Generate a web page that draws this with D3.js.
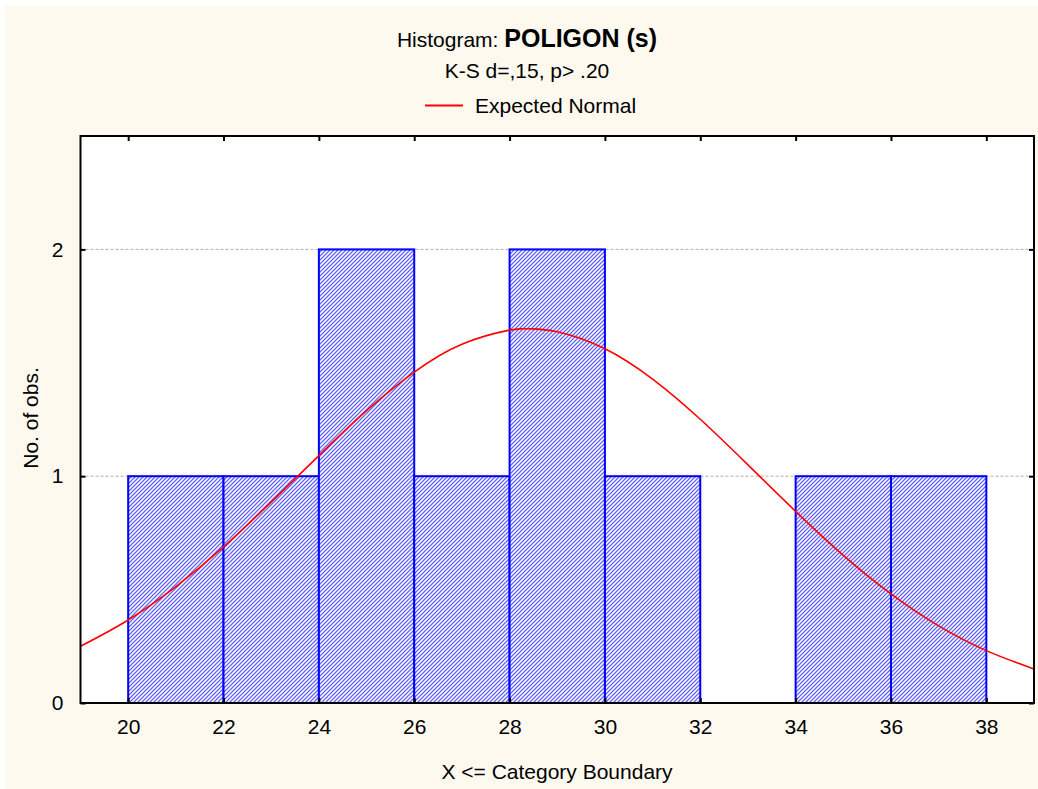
<!DOCTYPE html>
<html><head><meta charset="utf-8">
<script src="https://cdn.jsdelivr.net/npm/d3@7"></script>
<style>
html,body{margin:0;padding:0;background:#fff;}
svg{display:block;font-family:"Liberation Sans",Arial,sans-serif;}
</style></head>
<body>
<svg id="c" width="1038" height="789"></svg>
<script>
// Histogram bins (upper boundary) and counts
const binStarts = [20, 22, 24, 26, 28, 30, 32, 34, 36];
const binEnds   = [22, 24, 26, 28, 30, 32, 34, 36, 38];
const counts    = [1, 1, 2, 1, 2, 1, 0, 1, 1];
const xTicks = [20, 22, 24, 26, 28, 30, 32, 34, 36, 38];
const yTicks = [0, 1, 2];
// Expected normal curve
const curveX = [19,20,21,22,23,24,25,26,27,28,28.4,29,30,31,32,33,34,35,36,37,38,39];
const curveY = [0.250,0.366,0.513,0.688,0.886,1.091,1.289,1.459,1.582,1.644,1.650,1.637,1.562,1.428,1.251,1.050,0.845,0.651,0.481,0.340,0.231,0.150];

const svg = d3.select("#c");
svg.append("rect").attr("x",5).attr("y",6).attr("width",1033).attr("height",783).attr("fill","#FDF9EF");

const L=80.5, R=1034, T=136, B=703;
const x = d3.scaleLinear().domain([19,39]).range([L,R]);
const y = d3.scaleLinear().domain([0,2.5]).range([B,T]);

const defs = svg.append("defs");
const pat = defs.append("pattern").attr("id","hatch").attr("patternUnits","userSpaceOnUse")
  .attr("width",4).attr("height",4);
pat.append("rect").attr("width",4).attr("height",4).attr("fill","#fff");
pat.append("path").attr("d","M-1,1 l2,-2 M0,4 l4,-4 M3,5 l2,-2")
  .attr("stroke","#6464f2").attr("stroke-width",1.25);
defs.append("clipPath").attr("id","clip").append("rect")
  .attr("x",L).attr("y",T).attr("width",R-L).attr("height",B-T);

svg.append("rect").attr("x",L).attr("y",T).attr("width",R-L).attr("height",B-T).attr("fill","#fff");

// grid
svg.append("g").selectAll("line").data(yTicks.filter(d=>d>0)).join("line")
  .attr("x1",L).attr("x2",R).attr("y1",d=>y(d)).attr("y2",d=>y(d))
  .attr("stroke","#b0b0b0").attr("stroke-width",1).attr("stroke-dasharray","3,2");

// bars
const bins = binStarts.map((s,i)=>({s, e:binEnds[i], c:counts[i]})).filter(d=>d.c>0);
svg.append("g").selectAll("rect").data(bins).join("rect")
  .attr("x",d=>x(d.s)).attr("width",d=>x(d.e)-x(d.s))
  .attr("y",d=>y(d.c)).attr("height",d=>y(0)-y(d.c))
  .attr("fill","url(#hatch)").attr("stroke","#0000ff").attr("stroke-width",2);

// curve
const line = d3.line().x((d,i)=>x(curveX[i])).y(d=>y(d)).curve(d3.curveNatural);
svg.append("path").attr("d",line(curveY)).attr("clip-path","url(#clip)")
  .attr("fill","none").attr("stroke","#ff0000").attr("stroke-width",1.6);

// frame
svg.append("rect").attr("x",L).attr("y",T).attr("width",R-L).attr("height",B-T)
  .attr("fill","none").attr("stroke","#000").attr("stroke-width",2);

// axes
const xb = svg.append("g").attr("transform",`translate(0,${B})`)
  .call(d3.axisBottom(x).tickValues(xTicks).tickSize(-5).tickPadding(16));
const xt = svg.append("g").attr("transform",`translate(0,${T})`)
  .call(d3.axisTop(x).tickValues(xTicks).tickSize(-5).tickFormat(""));
const yl = svg.append("g").attr("transform",`translate(${L},0)`)
  .call(d3.axisLeft(y).tickValues(yTicks).tickSize(-5).tickPadding(17).tickFormat(d3.format("d")));
const yr = svg.append("g").attr("transform",`translate(${R},0)`)
  .call(d3.axisRight(y).tickValues(yTicks).tickSize(-5).tickFormat(""));
[xb,xt,yl,yr].forEach(g=>{
  g.select(".domain").remove();
  g.selectAll(".tick line").attr("stroke","#000").attr("stroke-width",2);
  g.selectAll("text").attr("font-size",21).attr("fill","#000")
   .style("font-family","'Liberation Sans',Arial,sans-serif");
});

// titles
const t = svg.append("text").attr("x",527).attr("y",47).attr("text-anchor","middle").attr("fill","#000");
t.append("tspan").attr("font-size",21).text("Histogram: ");
t.append("tspan").attr("font-size",25).attr("font-weight","bold").text("POLIGON (s)");
svg.append("text").attr("x",527).attr("y",78).attr("text-anchor","middle")
  .attr("font-size",21).text("K-S d=,15, p> .20");
svg.append("line").attr("x1",425).attr("x2",463).attr("y1",105.5).attr("y2",105.5)
  .attr("stroke","#ff0000").attr("stroke-width",2);
svg.append("text").attr("x",475).attr("y",113).attr("font-size",21).text("Expected Normal");

svg.append("text").attr("x",557).attr("y",779).attr("text-anchor","middle")
  .attr("font-size",21).text("X <= Category Boundary");
svg.append("text").attr("transform","translate(38,418) rotate(-90)").attr("text-anchor","middle")
  .attr("font-size",21).text("No. of obs.");
</script>
</body></html>
